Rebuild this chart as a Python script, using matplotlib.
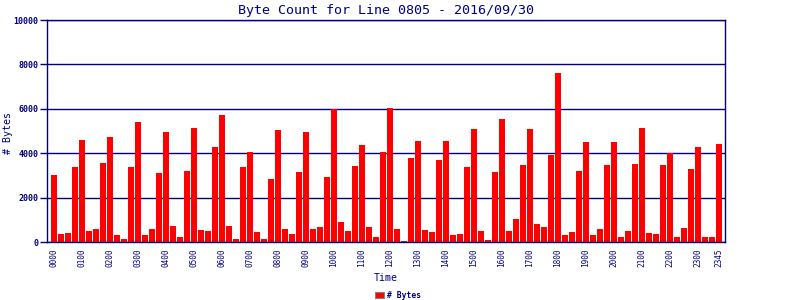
import matplotlib
matplotlib.use("Agg")
import matplotlib.pyplot as plt
from matplotlib.patches import Patch

# 15-minute intervals for one day
times = ["%02d%02d" % (h, m) for h in range(24) for m in (0, 15, 30, 45)]

byte_counts = [
    3030, 375, 420, 3390, 4610, 510, 600, 3575, 4745, 330, 150, 3390,
    5420, 330, 600, 3125, 4970, 735, 240, 3215, 5150, 555, 510, 4295,
    5740, 735, 150, 3390, 4070, 465, 150, 2855, 5060, 600, 375, 3170,
    4970, 600, 690, 2945, 5990, 915, 510, 3440, 4385, 690, 240, 4070,
    6050, 600, 30, 3800, 4565, 555, 465, 3710, 4565, 330, 375, 3395,
    5105, 510, 105, 3170, 5555, 510, 1050, 3485, 5105, 825, 690, 3935,
    7630, 330, 465, 3215, 4520, 330, 600, 3485, 4520, 240, 510, 3530,
    5150, 420, 375, 3485, 4025, 240, 645, 3305, 4295, 240, 240, 4430,
]

yticks = [0, 2000, 4000, 6000, 8000, 10000]

navy = "#000080"
plt.rcParams["font.family"] = ["DejaVu Sans Mono"]

fig = plt.figure(figsize=(8, 3), dpi=100)
ax = fig.add_axes([0.05875, 0.1933, 0.8475, 0.74])

x = list(range(len(byte_counts)))
ax.bar(x, byte_counts, width=0.86, color="#ff0000", zorder=2)

ax.set_xlim(-1, 95.86)
ax.set_ylim(0, 10000)

tick_pos = [i for i in x if i % 4 == 0] + [len(x) - 1]
ax.set_xticks(tick_pos)
ax.set_xticklabels([times[i] for i in tick_pos], rotation=90, fontsize=5.6, color=navy)
ax.tick_params(axis="x", length=0, pad=5)

ax.set_yticks(yticks)
ax.set_yticklabels([str(v) for v in yticks], fontsize=6, fontweight="bold", color=navy)
ax.tick_params(axis="y", length=5, width=1, color=navy, pad=1)

ax.grid(axis="y", color=navy, linewidth=1.0, zorder=1)
ax.set_axisbelow(True)
for s in ax.spines.values():
    s.set_color(navy)
    s.set_linewidth(1.0)

ax.set_title("Byte Count for Line 0805 - 2016/09/30", fontsize=9.6, color=navy, pad=4)
ax.set_xlabel("Time", fontsize=7.2, color=navy, labelpad=4)
fig.text(8 / 800, 1 - 133 / 300, "# Bytes", rotation=90, fontsize=7.2, color=navy,
         ha="center", va="center")

handle = Patch(facecolor="#ff0000", edgecolor="#808080", linewidth=0.8)
fig.legend([handle], ["# Bytes"], loc="center", bbox_to_anchor=(0.4975, 0.016),
           frameon=False, fontsize=5.8, labelcolor=navy, handlelength=1.1,
           handleheight=0.9, handletextpad=0.4, borderpad=0,
           prop={"weight": "bold", "size": 5.8})

fig.savefig("out.png", dpi=100, facecolor="white")
